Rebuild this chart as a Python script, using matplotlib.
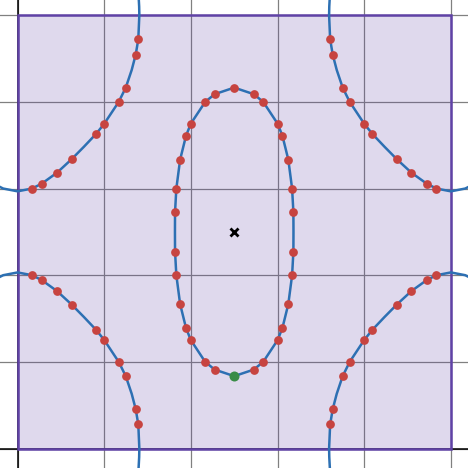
import matplotlib
matplotlib.use('Agg')
import matplotlib.pyplot as plt
from matplotlib.patches import Rectangle

# the square cell, in data units
side = 5
centre = (2.5, 2.5)

# top-left corner arc
# (the other three corners show the same arc mirrored)
arc_x = [1.395, 1.403, 1.405, 1.393, 1.363, 1.317, 1.248, 1.167, 1.0, 0.908,
         0.766, 0.624, 0.455, 0.278, 0.166, 0.0, -0.166, -0.278]
arc_y = [5.25, 5.1, 5.0, 4.722, 4.545, 4.369, 4.164, 4.0, 3.748, 3.633,
         3.483, 3.339, 3.183, 3.056, 3.0, 2.968, 3.0, 3.056]
arc_dot_x = [1.393, 1.363, 1.248, 1.167, 1.0, 0.908, 0.624, 0.455, 0.278, 0.166]
arc_dot_y = [4.722, 4.545, 4.164, 4.0, 3.748, 3.633, 3.339, 3.183, 3.056, 3.0]

# upper-right quarter of the middle loop, as offsets from the centre
loop_dx = [0.0, 0.226, 0.335, 0.5, 0.556, 0.624, 0.668, 0.683, 0.684]
loop_dy = [1.665, 1.589, 1.5, 1.25, 1.11, 0.835, 0.5, 0.227, 0.0]
n_loop_dots = 8  # the first 8 quarter points carry a dot

blue = '#2d70b3'
red = '#c74440'
green = '#388c46'
purple = '#6042a6'

fig = plt.figure(figsize=(4.68, 4.68), dpi=100)
ax = fig.add_axes([0, 0, 1, 1])
ax.set_xlim(-0.203, 5.198)
ax.set_ylim(-0.225, 5.176)
ax.axis('off')

# grid and axes
for g in range(side + 1):
    ax.axvline(g, color='#808080', lw=0.9, zorder=1)
    ax.axhline(g, color='#808080', lw=0.9, zorder=1)
ax.axvline(0, color='black', lw=1.1, zorder=2)
ax.axhline(0, color='black', lw=1.1, zorder=2)

# shaded square
ax.add_patch(Rectangle((0, 0), side, side, facecolor=purple, alpha=0.2,
                       edgecolor='none', zorder=3))
ax.add_patch(Rectangle((0, 0), side, side, facecolor='none',
                       edgecolor=purple, lw=1.8, zorder=4))

# corner arcs, mirrored into each corner
for fx in (False, True):
    for fy in (False, True):
        xs = [side - v for v in arc_x] if fx else arc_x
        ys = [side - v for v in arc_y] if fy else arc_y
        dx = [side - v for v in arc_dot_x] if fx else arc_dot_x
        dy = [side - v for v in arc_dot_y] if fy else arc_dot_y
        ax.plot(xs, ys, color=blue, lw=1.8, zorder=5, solid_capstyle='round')
        ax.plot(dx, dy, 'o', color=red, ms=6.3, mec='none', zorder=6)

# middle loop, going round the four quarters
lx, ly = [], []
for sx, sy, rev in ((1, 1, False), (1, -1, True), (-1, -1, False), (-1, 1, True)):
    qx = loop_dx[::-1] if rev else loop_dx
    qy = loop_dy[::-1] if rev else loop_dy
    lx += [centre[0] + sx * v for v in qx]
    ly += [centre[1] + sy * v for v in qy]
ax.plot(lx, ly, color=blue, lw=1.8, zorder=5, solid_joinstyle='round')

# dots on the loop: the bottom one is green
dot_x, dot_y = [centre[0]], [centre[1] + loop_dy[0]]
for sx in (1, -1):
    for sy in (1, -1):
        for v, w in zip(loop_dx[1:n_loop_dots], loop_dy[1:n_loop_dots]):
            dot_x.append(centre[0] + sx * v)
            dot_y.append(centre[1] + sy * w)
ax.plot(dot_x, dot_y, 'o', color=red, ms=6.3, mec='none', zorder=6)
ax.plot([centre[0]], [centre[1] - loop_dy[0]], 'o', color=green, ms=7.2,
        mec='none', zorder=7)

# centre cross
ax.plot([centre[0]], [centre[1]], 'x', color='black', ms=6, mew=2, zorder=7)

fig.savefig('out.png', dpi=100)
